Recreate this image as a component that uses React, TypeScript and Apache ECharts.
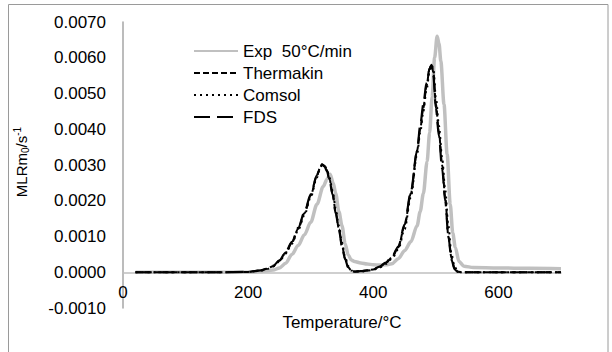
import React, { useEffect, useRef } from "react";
import * as echarts from "echarts";

// Temperature (°C) grid for the simulated curves
const simTemps = [20, 50, 100, 150, 200, 220, 230, 240, 250, 260, 270, 280, 290, 300, 310, 315, 318, 322, 326, 330, 335, 340, 345, 350, 355, 360, 365, 370, 380, 390, 400, 410, 420, 430, 440, 450, 460, 470, 475, 480, 485, 490, 493, 496, 500, 505, 510, 515, 520, 525, 530, 535, 540, 560, 600, 650, 700];

const thermakin = [0, 0, 0, 0, 0.00001, 0.00005, 0.0001, 0.00017, 0.00032, 0.00055, 0.00083, 0.00122, 0.00165, 0.00215, 0.0027, 0.00293, 0.00302, 0.00298, 0.00285, 0.0026, 0.0022, 0.00168, 0.00122, 0.00075, 0.00038, 0.00014, 0.00004, 0.00002, 0.00003, 0.00005, 0.00008, 0.00015, 0.00026, 0.00042, 0.0007, 0.0013, 0.0022, 0.0034, 0.004, 0.0046, 0.0052, 0.0057, 0.0058, 0.0056, 0.0047, 0.0039, 0.003, 0.0021, 0.001, 0.0004, 0.0001, 0.00002, 0, 0, 0, 0, 0];

const comsol = [0, 0, 0, 0, 0.00001, 0.00004, 0.00009, 0.00016, 0.0003, 0.00052, 0.0008, 0.00118, 0.0016, 0.0021, 0.00265, 0.0029, 0.003, 0.00299, 0.00288, 0.00265, 0.00228, 0.00178, 0.0013, 0.00083, 0.00043, 0.00017, 0.00005, 0.00002, 0.00002, 0.00004, 0.00007, 0.00013, 0.00023, 0.00038, 0.00064, 0.0012, 0.0021, 0.0033, 0.0039, 0.0045, 0.0051, 0.0056, 0.0058, 0.0057, 0.0049, 0.0041, 0.0032, 0.0023, 0.0013, 0.0005, 0.00015, 0.00003, 0, 0, 0, 0, 0];

const fds = [0, 0, 0, 0, 0.00001, 0.00005, 0.0001, 0.00018, 0.00033, 0.00056, 0.00085, 0.00124, 0.00168, 0.00218, 0.00272, 0.00294, 0.00301, 0.00296, 0.00283, 0.00257, 0.00217, 0.00165, 0.0012, 0.00073, 0.00036, 0.00013, 0.00004, 0.00002, 0.00003, 0.00005, 0.00008, 0.00016, 0.00027, 0.00044, 0.00072, 0.00133, 0.00225, 0.0034, 0.0041, 0.0047, 0.0053, 0.0057, 0.0058, 0.0055, 0.0046, 0.0038, 0.0029, 0.002, 0.001, 0.00035, 0.00008, 0.00001, 0, 0, 0, 0, 0];

// Experimental curve
const expTemps = [20, 100, 200, 220, 240, 250, 260, 270, 280, 290, 300, 310, 320, 326, 331, 336, 340, 345, 350, 355, 360, 365, 370, 380, 390, 400, 410, 420, 430, 440, 450, 460, 470, 475, 480, 486, 490, 494, 498, 502, 505, 508, 513, 518, 523, 527, 531, 537, 545, 560, 600, 650, 700];
const expValues = [0, 0, 0, 0.00002, 0.00006, 0.00012, 0.00025, 0.0005, 0.00075, 0.00105, 0.0014, 0.0019, 0.0024, 0.0026, 0.00274, 0.0025, 0.0022, 0.0017, 0.0013, 0.0008, 0.00048, 0.00034, 0.0003, 0.00026, 0.00023, 0.00021, 0.0002, 0.00021, 0.00024, 0.00038, 0.0006, 0.00085, 0.0013, 0.0017, 0.0022, 0.0031, 0.0039, 0.0049, 0.006, 0.0066, 0.0064, 0.0059, 0.0047, 0.0033, 0.0019, 0.0011, 0.0007, 0.0003, 0.00017, 0.00013, 0.00012, 0.00011, 0.0001];

const seriesNames = ["Exp  50°C/min", "Thermakin", "Comsol", "FDS"];

const pairs = (xs: number[], ys: number[]) => xs.map((x, i) => [x, ys[i]]);

const FONT = "'Liberation Sans', Arial, sans-serif";

export default function App() {
  const ref = useRef<HTMLDivElement>(null);
  useEffect(() => {
    document.body.style.margin = "0";
    const chart = echarts.init(ref.current!, null, { renderer: "svg" });
    const lineBase = { type: "line", showSymbol: false, symbol: "none", smooth: 0.3, smoothMonotone: "x" };
    chart.setOption({
      animation: false,
      backgroundColor: "#fff",
      textStyle: { fontFamily: FONT },
      grid: { left: 123, right: 51, top: 22, bottom: 44 },
      legend: {
        orient: "vertical",
        left: 188,
        top: 37,
        itemWidth: 44,
        itemHeight: 14,
        itemGap: 4,
        itemStyle: { opacity: 0, borderWidth: 0 },
        textStyle: { fontSize: 17, color: "#000", fontFamily: FONT, lineHeight: 18 },
        data: seriesNames,
      },
      xAxis: {
        type: "value",
        min: 0,
        max: 700,
        interval: 200,
        axisLine: { onZero: true, lineStyle: { color: "#BFBFBF", width: 1.5 } },
        axisTick: { show: false },
        splitLine: { show: false },
        axisLabel: { showMaxLabel: false, fontSize: 17, color: "#000", margin: -24, fontFamily: FONT },
      },
      yAxis: {
        type: "value",
        min: -0.001,
        max: 0.007,
        interval: 0.001,
        axisLine: { show: true, lineStyle: { color: "#A6A6A6", width: 1.5 } },
        axisTick: { show: false },
        splitLine: { show: false },
        axisLabel: {
          fontSize: 17,
          color: "#000",
          margin: 17,
          fontFamily: FONT,
          formatter: (v: number) => v.toFixed(4),
        },
      },
      graphic: [
        {
          type: "rect",
          shape: { x: 8.5, y: 4.5, width: 599.5, height: 352 },
          style: { fill: "none", stroke: "#9A9A9A", lineWidth: 1 },
          silent: true,
        },
        {
          type: "text",
          x: 342,
          y: 322,
          style: {
            text: "Temperature/°C",
            fontSize: 17,
            fontFamily: FONT,
            fill: "#000",
            align: "center",
            verticalAlign: "middle",
          },
        },
        {
          type: "text",
          x: 21,
          y: 162,
          rotation: Math.PI / 2,
          style: {
            text: "{a|MLRm}{sub|0}{a|/s}{sup|-1}",
            align: "center",
            verticalAlign: "middle",
            fill: "#000",
            fontFamily: FONT,
            rich: {
              a: { fontSize: 15, fontFamily: FONT, fill: "#000", lineHeight: 22 },
              sub: { fontSize: 10, fontFamily: FONT, fill: "#000", padding: [9, 0, 0, 0], lineHeight: 22 },
              sup: { fontSize: 10, fontFamily: FONT, fill: "#000", padding: [0, 0, 8, 0], lineHeight: 22 },
            },
          },
        },
      ],
      series: [
        {
          ...lineBase,
          name: seriesNames[0],
          data: pairs(expTemps, expValues),
          lineStyle: { color: "#C0C0C0", width: 3.5 },
          itemStyle: { color: "#C0C0C0" },
          z: 1,
        },
        {
          ...lineBase,
          name: seriesNames[1],
          data: pairs(simTemps, thermakin),
          lineStyle: { color: "#000", width: 2, type: [6, 3] },
          itemStyle: { color: "#000" },
          z: 2,
        },
        {
          ...lineBase,
          name: seriesNames[2],
          data: pairs(simTemps, comsol),
          lineStyle: { color: "#000", width: 2, type: [2, 4] },
          itemStyle: { color: "#000" },
          z: 3,
        },
        {
          ...lineBase,
          name: seriesNames[3],
          data: pairs(simTemps, fds),
          lineStyle: { color: "#000", width: 2.2, type: [16, 7] },
          itemStyle: { color: "#000" },
          z: 4,
        },
      ],
    });
    return () => chart.dispose();
  }, []);
  return <div ref={ref} style={{ width: 612, height: 352 }} />;
}
